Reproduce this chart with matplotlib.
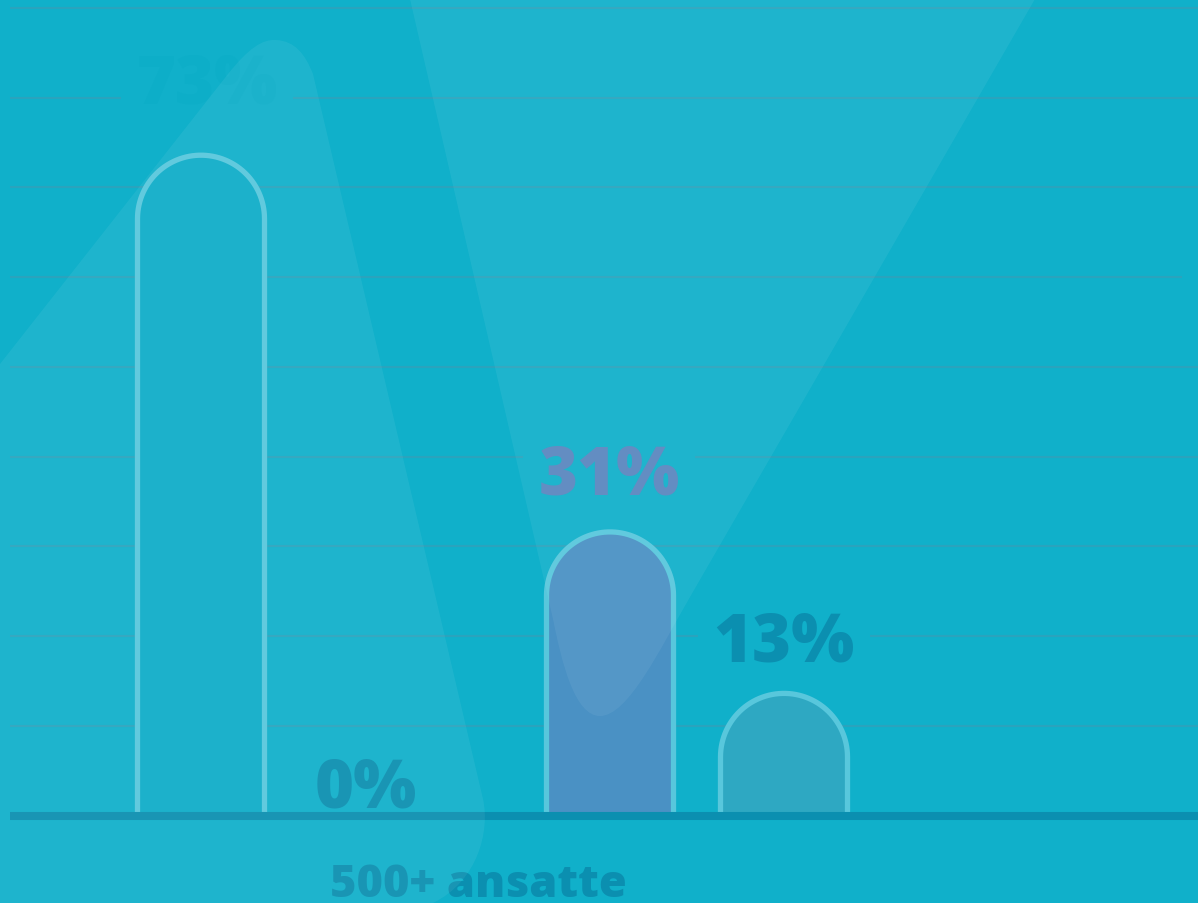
import numpy as np
import matplotlib.pyplot as plt
from matplotlib.path import Path
from matplotlib.patches import PathPatch
from matplotlib.transforms import Affine2D

# andel (%) per kategori
verdier = [73, 0, 31, 13]
etiketter = ['73%', '0%', '31%', '13%']
gruppe = '500+ ansatte'

W, H = 1198, 904
bg = '#10b0ca'
PX = 8.97          # piksler per prosentpoeng
NULL = 811         # y-piksel for 0 %

x_pos = [201, 366, 610, 784]
bar_w = 127
fyll = ['#0eadc8', None, '#4a91c4', '#2ea8c2']
kant = '#58c7dc'
tekstfarge = ['#0daec8', '#0b8fb0', '#5a86bf', '#0b8fb0']
dx = [6, 0, -1, 0]
dy = [53, 3, 38, 33]

fig = plt.figure(figsize=(W / 100, H / 100), dpi=100, facecolor=bg)
ax = fig.add_axes([0, 0, 1, 1])
ax.set_facecolor(bg)
ax.set_xlim(0, W)
ax.set_ylim(-(H - NULL) / PX, NULL / PX)
ax.axis('off')

# hjelpelinjer
grid_y = np.arange(9.4, 90, 10)
grid_end = [W] * len(grid_y)
grid_end[5] = 1182
for y, xe in zip(grid_y, grid_end):
    ax.plot([10, xe], [y, y], color='#2aa3bd', lw=1.5, zorder=1, solid_capstyle='butt')

# søyler med avrundet topp
r = bar_w / 2
ry = r / PX
t = np.linspace(np.pi, 0, 60)
for x, v, f in zip(x_pos, verdier, fyll):
    if v <= 0:
        continue
    bunn = -0.7
    xs = [x - r] + list(x + r * np.cos(t)) + [x + r]
    ys = [bunn] + list(v - ry + ry * np.sin(t)) + [bunn]
    sti = Path(np.column_stack([xs, ys]))
    ax.add_patch(PathPatch(sti, facecolor=f, edgecolor=kant, lw=3.8, zorder=3))

# verdietiketter
for x, v, lab, c, ox, oy in zip(x_pos, verdier, etiketter, tekstfarge, dx, dy):
    ax.annotate(lab, (x, v), xytext=(ox, oy), textcoords='offset pixels',
                ha='center', va='baseline', fontsize=48, fontweight='heavy',
                family='Open Sans', color=c, zorder=2,
                bbox=dict(facecolor=bg, edgecolor='none', pad=11))

# grunnlinje
ax.plot([10, W], [-0.64, -0.64], color='#0b8fb0', lw=5.8, zorder=4, solid_capstyle='butt')

ax.text(478, -(897 - NULL) / PX, gruppe, ha='center', va='baseline', fontsize=32.5,
        fontweight='heavy', family='Open Sans', color='#0b8fb0', zorder=4)

# lyskjegler
px_trans = Affine2D().scale(1 / W, -1 / H).translate(0, 1) + ax.transAxes
M, L, C4, CL = Path.MOVETO, Path.LINETO, Path.CURVE4, Path.CLOSEPOLY
kjegle1 = Path(
    [(0, 904), (0, 365), (228, 75),
     (248, 50), (262, 40), (276, 41),
     (295, 42), (305, 55), (313, 75),
     (483, 800),
     (490, 832), (478, 882), (433, 904),
     (0, 904)],
    [M, L, L, C4, C4, C4, C4, C4, C4, L, C4, C4, C4, CL])
kjegle2 = Path(
    [(410, 0), (1035, 0), (690, 598),
     (660, 650), (628, 717), (600, 717),
     (575, 717), (562, 665), (553, 620),
     (410, 0)],
    [M, L, L, C4, C4, C4, C4, C4, C4, CL])
for k in (kjegle1, kjegle2):
    ax.add_patch(PathPatch(k, facecolor='white', alpha=0.06, edgecolor='none',
                           transform=px_trans, zorder=6))

fig.savefig('out.png', dpi=100, facecolor=bg)
